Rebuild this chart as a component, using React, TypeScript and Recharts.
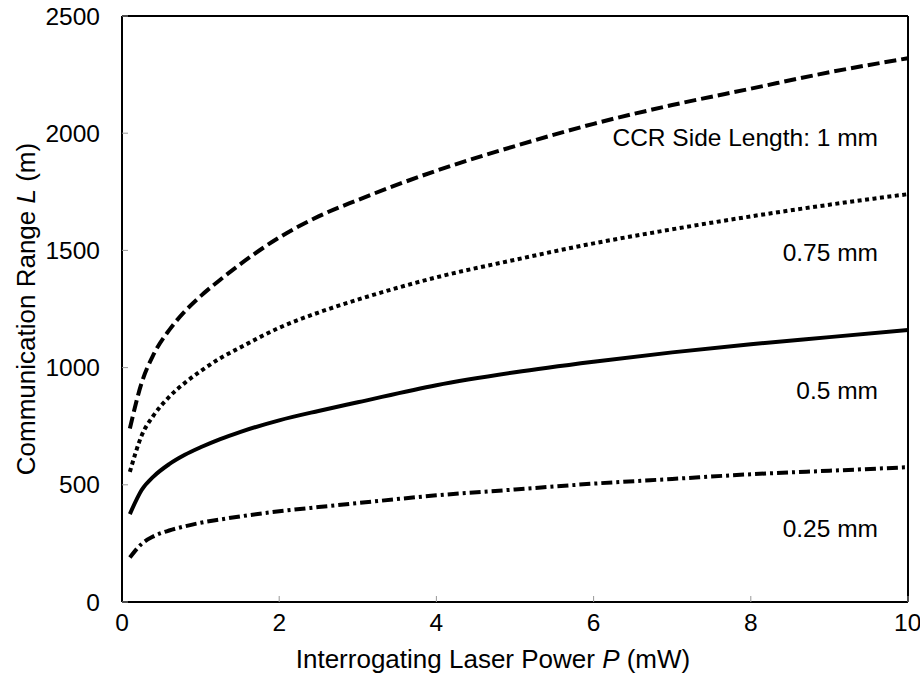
import React from "react";
import {
  LineChart,
  Line,
  XAxis,
  YAxis,
  Label,
  ReferenceDot,
  ReferenceLine,
} from "recharts";

// laser power P (mW)
const power = [0.1, 0.25, 0.4, 0.6, 0.8, 1, 1.25, 1.5, 2, 2.5, 3, 4, 5, 6, 7, 8, 9, 10];

// communication range L (m) for each CCR side length
const range1mm = [740, 935, 1055, 1160, 1240, 1305, 1375, 1440, 1555, 1645, 1715, 1840, 1945, 2040, 2120, 2190, 2260, 2320];
const range075mm = [555, 710, 795, 875, 935, 985, 1040, 1085, 1170, 1235, 1290, 1385, 1460, 1530, 1590, 1645, 1695, 1740];
const range05mm = [375, 478, 535, 588, 628, 660, 695, 725, 775, 815, 852, 925, 980, 1025, 1065, 1100, 1130, 1160];
const range025mm = [190, 248, 280, 305, 323, 338, 352, 365, 387, 405, 422, 455, 480, 505, 525, 545, 560, 575];

const xTicks = [0, 2, 4, 6, 8, 10];
const yTicks = [0, 500, 1000, 1500, 2000, 2500];

// curve labels, placed at the right edge
const curveLabels = ["CCR Side Length: 1 mm", "0.75 mm", "0.5 mm", "0.25 mm"];
const curveLabelY = [1984, 1493, 904, 316];

const data = power.map((p, i) => ({
  p,
  a: range1mm[i],
  b: range075mm[i],
  c: range05mm[i],
  d: range025mm[i],
}));

const FONT = "'Liberation Sans', Arial, Helvetica, sans-serif";
const FS = 24.5;
const TITLE_FS = 26;

const XTitle = (props: any) => {
  const vb = props.viewBox;
  return (
    <text
      x={vb.x + vb.width / 2 - 22}
      y={vb.y + 66}
      textAnchor="middle"
      fontFamily={FONT}
      fontSize={TITLE_FS}
      fill="#000"
    >
      Interrogating Laser Power <tspan fontStyle="italic">P</tspan> (mW)
    </text>
  );
};

const YTitle = (props: any) => {
  const vb = props.viewBox;
  const cx = 26;
  const cy = vb.y + vb.height / 2;
  return (
    <text
      x={cx}
      y={cy}
      dy="0.35em"
      transform={`rotate(-90, ${cx}, ${cy})`}
      textAnchor="middle"
      fontFamily={FONT}
      fontSize={TITLE_FS}
      fill="#000"
    >
      Communication Range <tspan fontStyle="italic">L</tspan> (m)
    </text>
  );
};

const tickStyle = { fill: "#000", fontSize: FS, fontFamily: FONT };
const frame = { stroke: "#000", strokeWidth: 2 };
const inTick = { stroke: "#999", strokeWidth: 1 };

export default function App() {
  return (
    <div style={{ position: "absolute", left: 0, top: 0, background: "#fff" }}>
      <LineChart
        width={920}
        height={673}
        data={data}
        margin={{ top: 16, right: 12, left: 0, bottom: 0 }}
      >
        <XAxis
          dataKey="p"
          type="number"
          domain={[0, 10]}
          ticks={xTicks}
          height={71}
          axisLine={frame}
          tickLine={inTick}
          tickSize={-6}
          tickMargin={18}
          tick={tickStyle}
        >
          <Label content={<XTitle />} />
        </XAxis>
        <YAxis
          type="number"
          domain={[0, 2500]}
          ticks={yTicks}
          width={122}
          axisLine={frame}
          tickLine={inTick}
          tickSize={-6}
          tickMargin={28}
          tick={tickStyle}
        >
          <Label content={<YTitle />} />
        </YAxis>
        <ReferenceLine y={2500} stroke="#000" strokeWidth={2} />
        <ReferenceLine x={10} stroke="#000" strokeWidth={2} />
        <Line
          dataKey="a"
          type="monotone"
          stroke="#000"
          strokeWidth={4}
          strokeDasharray="12 5"
          dot={false}
          isAnimationActive={false}
        />
        <Line
          dataKey="b"
          type="monotone"
          stroke="#000"
          strokeWidth={4}
          strokeDasharray="4 3.5"
          dot={false}
          isAnimationActive={false}
        />
        <Line
          dataKey="c"
          type="monotone"
          stroke="#000"
          strokeWidth={4}
          dot={false}
          isAnimationActive={false}
        />
        <Line
          dataKey="d"
          type="monotone"
          stroke="#000"
          strokeWidth={4}
          strokeDasharray="11 4 3 4"
          dot={false}
          isAnimationActive={false}
        />
        {curveLabels.map((t, i) => (
          <ReferenceDot
            key={t}
            x={10}
            y={curveLabelY[i]}
            r={0}
            fill="none"
            stroke="none"
            ifOverflow="visible"
            label={{
              value: t,
              position: "left",
              offset: 30,
              fill: "#000",
              fontSize: FS,
              fontFamily: FONT,
            }}
          />
        ))}
      </LineChart>
    </div>
  );
}
